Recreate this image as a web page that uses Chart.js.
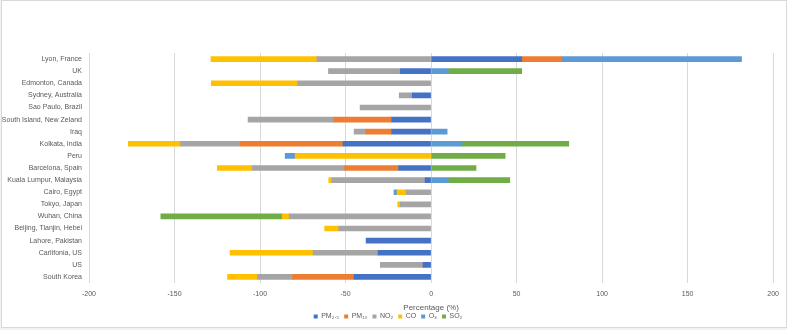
<!DOCTYPE html>
<html>
<head>
<meta charset="utf-8">
<script src="https://cdn.jsdelivr.net/npm/chart.js@4"></script>
<style>
  body { margin: 0; background: #f2f2f2; }
  #wrap { position: absolute; left: 1px; top: 0; width: 784px; height: 326px; background: #fff; border: 1px solid #d9d9d9; }
</style>
</head>
<body>
<div id="wrap"><canvas id="chart" width="784" height="326"></canvas></div>
<script>
// categories, top to bottom
const cities = ['Lyon, France', 'UK', 'Edmonton, Canada', 'Sydney, Australia', 'Sao Paulo, Brazil',
  'South Island, New Zeland', 'Iraq', 'Kolkata, India', 'Peru', 'Barcelona, Spain',
  'Kuala Lumpur, Malaysia', 'Cairo, Egypt', 'Tokyo, Japan', 'Wuhan, China', 'Beijing, Tianjin, Hebei',
  'Lahore, Pakistan', 'Carlifonia, US', 'US', 'South Korea'];

// percentage change per pollutant
const pm25 = [53, -18, null, -11, null, -23, -23, -51.5, null, -19, -3.5, null, null, null, null, -38, -31, -4.7, -45];
const pm10 = [23.5, null, null, null, null, -34, -15, -60, null, -31.5, null, null, null, null, null, null, null, null, -36];
const no2 = [-66.7, -42, -78, -7.6, -41.5, -50, -7, -35, null, -54, -54.5, -14.6, -18, -83, -54, null, -38, -25, -20.5];
const co = [-62, null, -50.5, null, null, null, null, -30.5, -79.5, -20.5, -1.8, -5.3, -1.5, -4, -8.2, null, -48.5, null, -17.5];
const o3 = [105, 10, null, null, null, null, 9.4, 18, -5.8, null, 10, -1.8, null, null, null, null, null, null, null];
const so2 = [null, 43, null, null, null, null, null, 62.5, 43.3, 26.3, 36, null, null, -71, null, null, null, null, null];

const xTicks = [-200, -150, -100, -50, 0, 50, 100, 150, 200];

const textColor = '#595959';
const font = { family: 'Liberation Sans, Arial, sans-serif', size: 7 };

new Chart(document.getElementById('chart'), {
  type: 'bar',
  data: {
    labels: cities,
    datasets: [
      { label: 'PM\u2082.\u2085', data: pm25, backgroundColor: '#4472C4' },
      { label: 'PM\u2081\u2080', data: pm10, backgroundColor: '#ED7D31' },
      { label: 'NO\u2082', data: no2, backgroundColor: '#A5A5A5' },
      { label: 'CO', data: co, backgroundColor: '#FFC000' },
      { label: 'O\u2083', data: o3, backgroundColor: '#5B9BD5' },
      { label: 'SO\u2082', data: so2, backgroundColor: '#70AD47' }
    ]
  },
  options: {
    indexAxis: 'y',
    responsive: false,
    animation: false,
    barThickness: 5,
    layout: { padding: { left: 0, right: 12, top: 52, bottom: -3 } },
    plugins: {
      tooltip: { enabled: false },
      legend: {
        position: 'bottom',
        labels: { font: font, color: textColor, boxWidth: 4, boxHeight: 4, padding: 5 }
      }
    },
    scales: {
      x: {
        stacked: true,
        min: -200,
        max: 200,
        afterBuildTicks: function(scale) {
          scale.ticks = xTicks.map(v => ({ value: v }));
        },
        afterFit: function(scale) { scale.height = 25; },
        grid: { color: '#d9d9d9', drawTicks: false },
        border: { display: false },
        ticks: { font: font, color: textColor, padding: 7 },
        title: { display: true, text: 'Percentage (%)', font: { family: font.family, size: 8 }, color: textColor, padding: { top: 0, bottom: -5 } }
      },
      y: {
        stacked: true,
        grid: { display: false, drawTicks: false },
        border: { display: false },
        ticks: { font: font, color: textColor, autoSkip: false, padding: 7 },
        afterFit: function(scale) { scale.width = 87; }
      }
    }
  }
});
</script>
</body>
</html>
